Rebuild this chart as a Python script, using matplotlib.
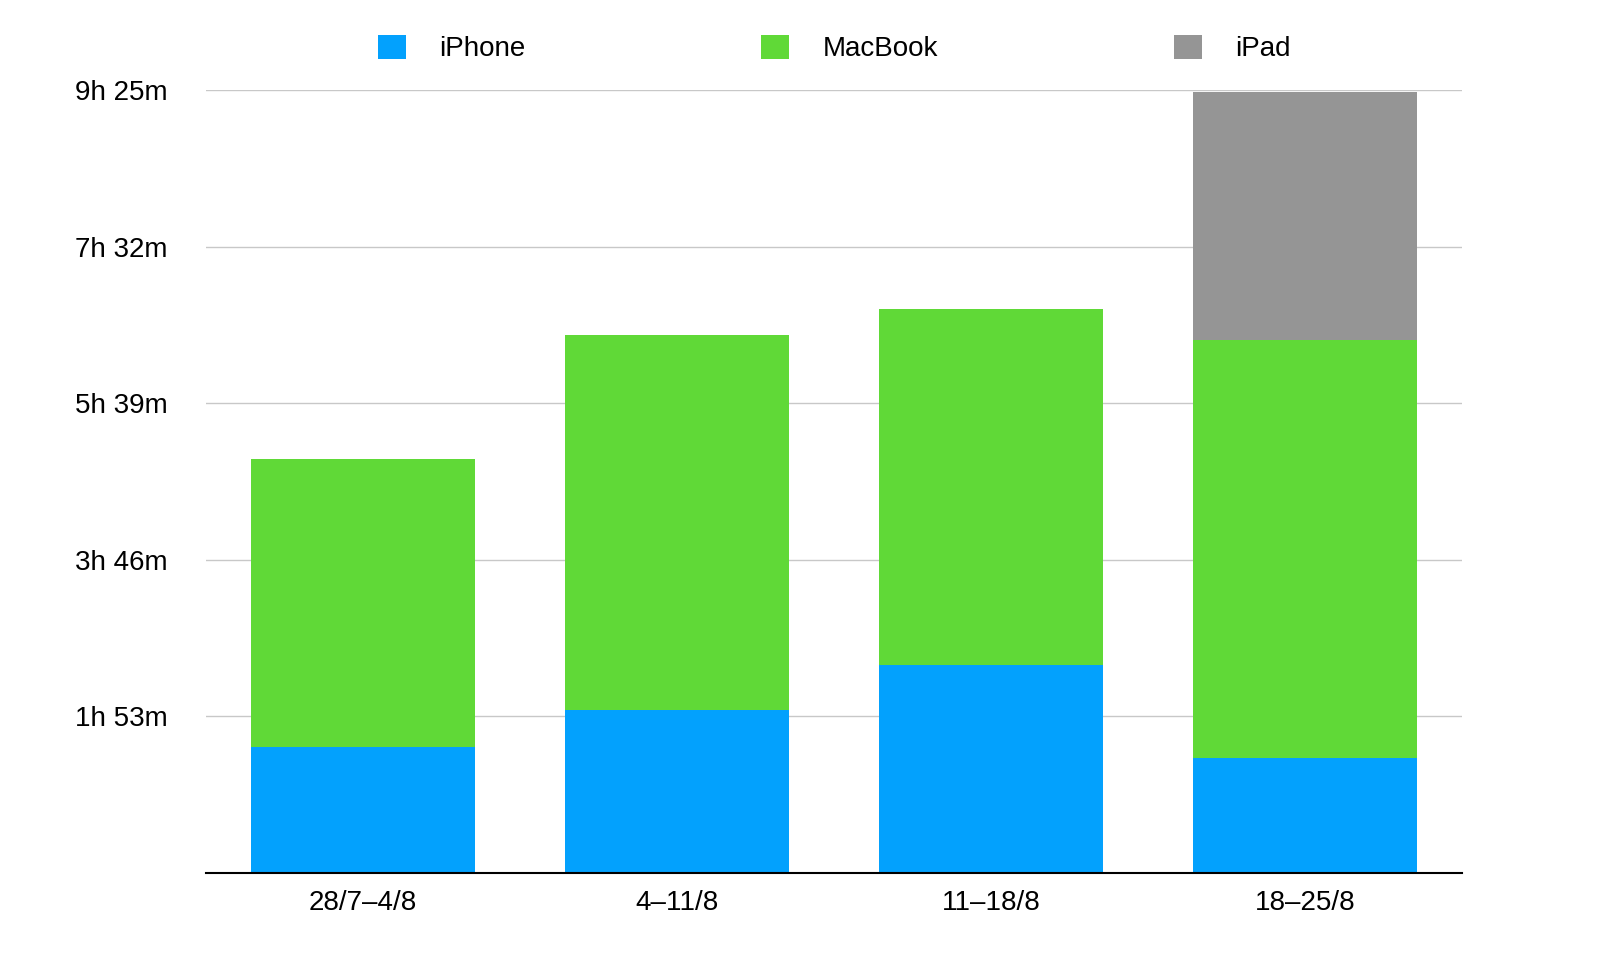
import matplotlib.pyplot as plt
import numpy as np

plt.rcParams["font.family"] = ["Liberation Sans", "DejaVu Sans"]

weeks = ["28/7–4/8", "4–11/8", "11–18/8", "18–25/8"]
iphone = [91, 118, 150, 83]      # minutes
macbook = [208, 270, 257, 302]
ipad = [0, 0, 0, 179]
tick_minutes = [113, 226, 339, 452, 565]


def fmt(m):
    return f"{m // 60}h {m % 60}m"


fig = plt.figure(figsize=(16, 9.6), dpi=100)
ax = fig.add_axes([0.129, 0.0906, 0.785, 0.8154])

x = np.arange(len(weeks))
w = 0.713
ax.bar(x, iphone, w, color="#03a1fd", label="iPhone", zorder=2)
ax.bar(x, macbook, w, bottom=iphone, color="#60d937", label="MacBook", zorder=2)
bottom2 = np.add(iphone, macbook)
ax.bar(x, ipad, w, bottom=bottom2, color="#959595", label="iPad", zorder=2)

ax.set_xlim(-0.497, 3.5)
ax.set_ylim(0, 565)
ax.set_yticks(tick_minutes)
ax.set_yticklabels([fmt(m) for m in tick_minutes])
ax.set_xticks(x)
ax.set_xticklabels(weeks)
ax.tick_params(axis="both", length=0, labelsize=20, pad=12)
ax.tick_params(axis="y", pad=28)
ax.grid(axis="y", color="#c8c8c8", linewidth=1, zorder=0)
for s in ["top", "right", "left"]:
    ax.spines[s].set_visible(False)
ax.spines["bottom"].set_color("black")
ax.spines["bottom"].set_linewidth(1.5)

ax.legend(loc="lower center", bbox_to_anchor=(0.5, 1.0), ncol=3, frameon=False,
          fontsize=20, handlelength=1.0, handleheight=1.0, columnspacing=8.5,
          handletextpad=1.2, borderaxespad=0.6)

fig.savefig("out.png", dpi=100)
